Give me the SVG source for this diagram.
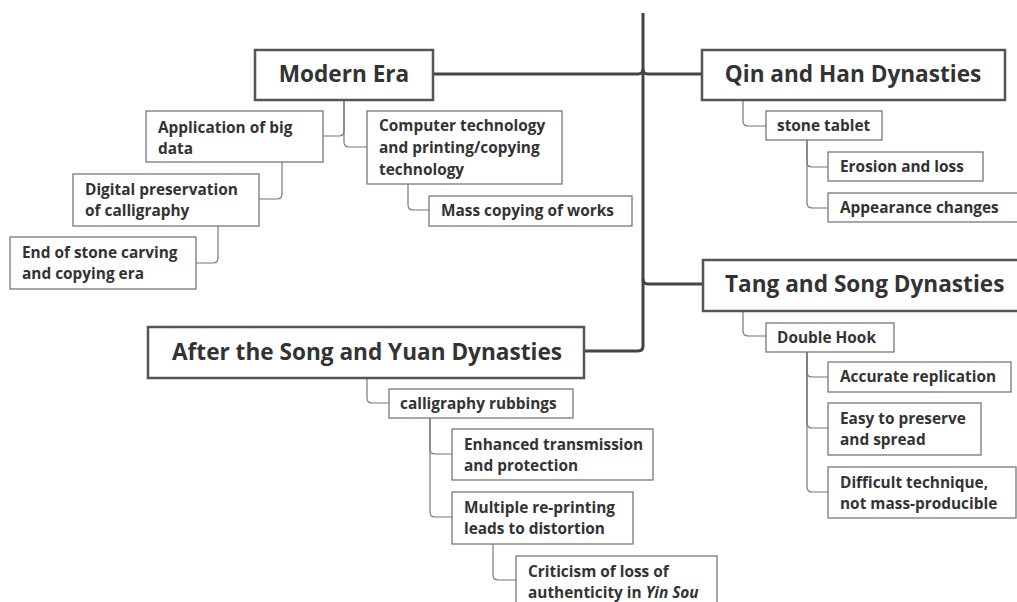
<svg xmlns="http://www.w3.org/2000/svg" width="1017" height="602" viewBox="0 0 1017 602">
<style>
.main rect{fill:#fff;stroke:#555;stroke-width:2.5}
.sub rect{fill:#fff;stroke:#777;stroke-width:1.3}
.main text{font-family:"Open Sans","Liberation Sans",sans-serif;font-weight:700;font-size:22.6px;fill:#333}
.sub text{font-family:"Open Sans","Liberation Sans",sans-serif;font-weight:700;font-size:15.4px;fill:#333}
.trunk{fill:none;stroke:#444;stroke-width:3}
.thin{fill:none;stroke:#777;stroke-width:1.2}
</style>
<rect width="1017" height="602" fill="#fff"/>
<g id="connectors">
<path class="trunk" d="M643,13 V346 Q643,351 638,351 H584"/>
<path class="trunk" d="M643,69 Q643,74 638,74 H433"/>
<path class="trunk" d="M643,69 Q643,74 648,74 H702"/>
<path class="trunk" d="M643,279 Q643,284 648,284 H703"/>
<path class="thin" d="M344,100 V131 Q344,136 339,136 H323"/>
<path class="thin" d="M344,100 V142 Q344,147 349,147 H367"/>
<path class="thin" d="M282,162 V194 Q282,199 277,199 H259"/>
<path class="thin" d="M218,226 V258 Q218,263 213,263 H196"/>
<path class="thin" d="M408,184 V205 Q408,210 413,210 H429"/>
<path class="thin" d="M743,100 V121 Q743,126 748,126 H766"/>
<path class="thin" d="M807,140 V162 Q807,167 812,167 H828"/>
<path class="thin" d="M807,140 V203 Q807,208 812,208 H828"/>
<path class="thin" d="M743,311 V331 Q743,336 748,336 H766"/>
<path class="thin" d="M807,352 V372 Q807,377 812,377 H828"/>
<path class="thin" d="M807,352 V423 Q807,428 812,428 H828"/>
<path class="thin" d="M807,352 V487 Q807,492 812,492 H828"/>
<path class="thin" d="M367,378 V398 Q367,403 372,403 H389"/>
<path class="thin" d="M430,418 V449 Q430,454 435,454 H452"/>
<path class="thin" d="M430,418 V512 Q430,517 435,517 H452"/>
<path class="thin" d="M493,544 V575 Q493,580 498,580 H516"/>
</g>
<g id="modern-era" class="main"><rect x="255" y="50" width="178" height="50"/><text x="344" y="82" text-anchor="middle">Modern Era</text></g>
<g id="qin-han" class="main"><rect x="702" y="50" width="303" height="50"/><text x="853" y="82" text-anchor="middle">Qin and Han Dynasties</text></g>
<g id="tang-song" class="main"><rect x="703" y="260" width="330" height="51"/><text x="725" y="292">Tang and Song Dynasties</text></g>
<g id="after-song-yuan" class="main"><rect x="148" y="327" width="436" height="51"/><text x="367" y="360" text-anchor="middle">After the Song and Yuan Dynasties</text></g>
<g id="big-data" class="sub"><rect x="146" y="111" width="177" height="51"/><text x="158" y="133">Application of big</text><text x="158" y="154">data</text></g>
<g id="digital" class="sub"><rect x="73" y="174" width="186" height="52"/><text x="85" y="195">Digital preservation</text><text x="85" y="216">of calligraphy</text></g>
<g id="end-carving" class="sub"><rect x="10" y="237" width="186" height="52"/><text x="22" y="258">End of stone carving</text><text x="22" y="279">and copying era</text></g>
<g id="computer" class="sub"><rect x="367" y="111" width="195" height="73"/><text x="379" y="131">Computer technology</text><text x="379" y="153">and printing/copying</text><text x="379" y="175">technology</text></g>
<g id="mass-copying" class="sub"><rect x="429" y="196" width="203" height="30"/><text x="441" y="216">Mass copying of works</text></g>
<g id="stone-tablet" class="sub"><rect x="766" y="111" width="116" height="29"/><text x="777" y="131">stone tablet</text></g>
<g id="erosion" class="sub"><rect x="828" y="152" width="155" height="29"/><text x="840" y="172">Erosion and loss</text></g>
<g id="appearance" class="sub"><rect x="828" y="193" width="195" height="29"/><text x="840" y="213">Appearance changes</text></g>
<g id="double-hook" class="sub"><rect x="766" y="323" width="128" height="29"/><text x="777" y="343">Double Hook</text></g>
<g id="accurate" class="sub"><rect x="828" y="362" width="183" height="30"/><text x="840" y="382">Accurate replication</text></g>
<g id="easy" class="sub"><rect x="828" y="403" width="153" height="52"/><text x="840" y="424">Easy to preserve</text><text x="840" y="445">and spread</text></g>
<g id="difficult" class="sub"><rect x="828" y="467" width="188" height="51"/><text x="840" y="488">Difficult technique,</text><text x="840" y="509">not mass-producible</text></g>
<g id="rubbings" class="sub"><rect x="389" y="389" width="184" height="29"/><text x="400" y="409">calligraphy rubbings</text></g>
<g id="enhanced" class="sub"><rect x="452" y="429" width="201" height="51"/><text x="464" y="450">Enhanced transmission</text><text x="464" y="471">and protection</text></g>
<g id="multiple" class="sub"><rect x="452" y="492" width="181" height="52"/><text x="464" y="513">Multiple re-printing</text><text x="464" y="534">leads to distortion</text></g>
<g id="criticism" class="sub"><rect x="516" y="556" width="201" height="60"/><text x="528" y="577">Criticism of loss of</text><text x="528" y="598">authenticity in <tspan font-style="italic">Yin Sou</tspan></text></g>
</svg>
